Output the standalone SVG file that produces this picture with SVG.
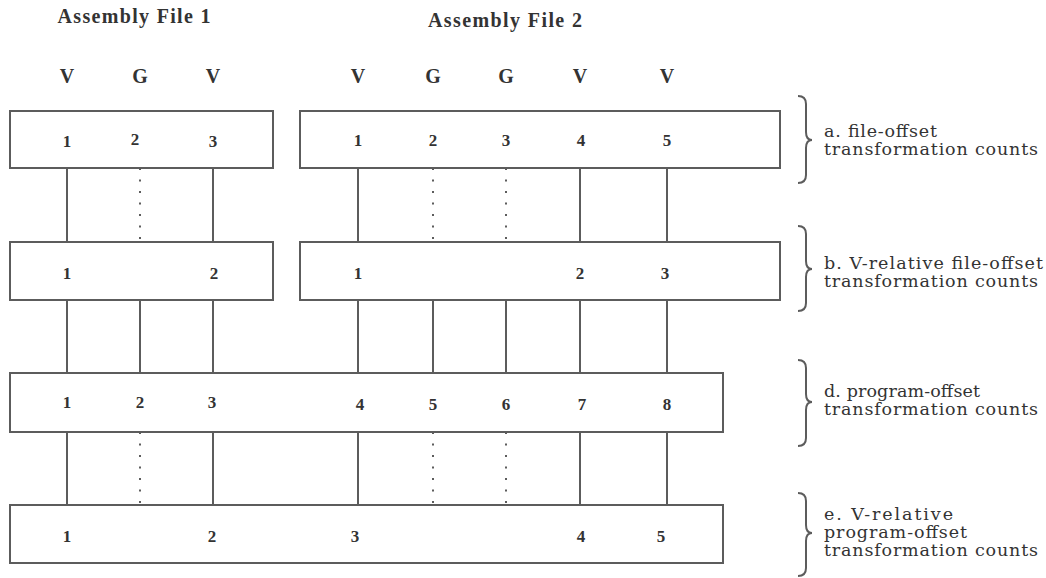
<svg xmlns="http://www.w3.org/2000/svg" width="1046" height="578" viewBox="0 0 1046 578">
<style>
.box{fill:#fff;stroke:#5c5c5c;stroke-width:2}
.ln{stroke:#5c5c5c;stroke-width:2;fill:none}
.dot{stroke:#5c5c5c;stroke-width:2;fill:none;stroke-dasharray:2 9.5}
.brace{stroke:#5c5c5c;stroke-width:2;fill:none}
.hd{font-family:"Liberation Serif",serif;font-weight:bold;font-size:20px;fill:#333;text-anchor:middle}
.vg{font-family:"Liberation Serif",serif;font-weight:bold;font-size:20px;fill:#333;text-anchor:middle}
.num{font-family:"Liberation Serif",serif;font-weight:bold;font-size:17px;fill:#333;text-anchor:middle}
.lbl{font-family:"DejaVu Serif",serif;font-size:17.5px;fill:#333}
</style>
<rect width="1046" height="578" fill="#fff"/>
<g id="headers">
<text class="hd" x="134" y="23" textLength="153" lengthAdjust="spacing">Assembly File 1</text>
<text class="hd" x="505" y="27" textLength="154" lengthAdjust="spacing">Assembly File 2</text>
<text class="vg" x="67" y="83">V</text>
<text class="vg" x="140" y="83">G</text>
<text class="vg" x="213" y="83">V</text>
<text class="vg" x="358" y="83">V</text>
<text class="vg" x="433" y="83">G</text>
<text class="vg" x="506" y="83">G</text>
<text class="vg" x="580" y="83">V</text>
<text class="vg" x="667" y="83">V</text>
</g>
<g id="connectors">
<line class="ln" x1="67" y1="168" x2="67" y2="242"/>
<line class="dot" x1="140" y1="168" x2="140" y2="242"/>
<line class="ln" x1="213" y1="168" x2="213" y2="242"/>
<line class="ln" x1="358" y1="168" x2="358" y2="242"/>
<line class="dot" x1="433" y1="168" x2="433" y2="242"/>
<line class="dot" x1="506" y1="168" x2="506" y2="242"/>
<line class="ln" x1="580" y1="168" x2="580" y2="242"/>
<line class="ln" x1="667" y1="168" x2="667" y2="242"/>
<line class="ln" x1="67" y1="300" x2="67" y2="373"/>
<line class="ln" x1="140" y1="300" x2="140" y2="373"/>
<line class="ln" x1="213" y1="300" x2="213" y2="373"/>
<line class="ln" x1="358" y1="300" x2="358" y2="373"/>
<line class="ln" x1="433" y1="300" x2="433" y2="373"/>
<line class="ln" x1="506" y1="300" x2="506" y2="373"/>
<line class="ln" x1="580" y1="300" x2="580" y2="373"/>
<line class="ln" x1="667" y1="300" x2="667" y2="373"/>
<line class="ln" x1="67" y1="432" x2="67" y2="505"/>
<line class="dot" x1="140" y1="432" x2="140" y2="505"/>
<line class="ln" x1="213" y1="432" x2="213" y2="505"/>
<line class="ln" x1="358" y1="432" x2="358" y2="505"/>
<line class="dot" x1="433" y1="432" x2="433" y2="505"/>
<line class="dot" x1="506" y1="432" x2="506" y2="505"/>
<line class="ln" x1="580" y1="432" x2="580" y2="505"/>
<line class="ln" x1="667" y1="432" x2="667" y2="505"/>
</g>
<g id="a-file1">
<rect class="box" x="10" y="111" width="263" height="57"/>
<text class="num" x="67" y="147">1</text>
<text class="num" x="135" y="145">2</text>
<text class="num" x="213" y="147">3</text>
</g>
<g id="a-file2">
<rect class="box" x="300" y="111" width="480" height="57"/>
<text class="num" x="358" y="146">1</text>
<text class="num" x="433" y="146">2</text>
<text class="num" x="506" y="146">3</text>
<text class="num" x="581" y="146">4</text>
<text class="num" x="667" y="146">5</text>
</g>
<g id="b-file1">
<rect class="box" x="10" y="242" width="263" height="58"/>
<text class="num" x="67" y="279">1</text>
<text class="num" x="214" y="279">2</text>
</g>
<g id="b-file2">
<rect class="box" x="300" y="242" width="480" height="58"/>
<text class="num" x="358" y="279">1</text>
<text class="num" x="580" y="279">2</text>
<text class="num" x="665" y="279">3</text>
</g>
<g id="d-program">
<rect class="box" x="10" y="373" width="713" height="59"/>
<text class="num" x="67" y="408">1</text>
<text class="num" x="140" y="408">2</text>
<text class="num" x="212" y="408">3</text>
<text class="num" x="360" y="410">4</text>
<text class="num" x="433" y="410">5</text>
<text class="num" x="506" y="410">6</text>
<text class="num" x="582" y="410">7</text>
<text class="num" x="667" y="410">8</text>
</g>
<g id="e-program">
<rect class="box" x="10" y="505" width="713" height="58"/>
<text class="num" x="67" y="542">1</text>
<text class="num" x="212" y="542">2</text>
<text class="num" x="355" y="542">3</text>
<text class="num" x="581" y="542">4</text>
<text class="num" x="661" y="542">5</text>
</g>
<g id="label-a">
<path class="brace" d="M798,96 Q806,96 806,104 L806,132 Q806,140 812,140 Q806,140 806,148 L806,175 Q806,183 798,183"/>
<text class="lbl" x="824" y="137" textLength="113" lengthAdjust="spacing">a. file-offset</text>
<text class="lbl" x="824" y="155" textLength="214" lengthAdjust="spacing">transformation counts</text>
</g>
<g id="label-b">
<path class="brace" d="M798,226 Q806,226 806,234 L806,261 Q806,269 812,269 Q806,269 806,277 L806,303 Q806,311 798,311"/>
<text class="lbl" x="824" y="269" textLength="219" lengthAdjust="spacing">b. V-relative file-offset</text>
<text class="lbl" x="824" y="287" textLength="214" lengthAdjust="spacing">transformation counts</text>
</g>
<g id="label-d">
<path class="brace" d="M798,360 Q806,360 806,368 L806,394 Q806,402 812,402 Q806,402 806,410 L806,438 Q806,446 798,446"/>
<text class="lbl" x="824" y="397" textLength="156" lengthAdjust="spacing">d. program-offset</text>
<text class="lbl" x="824" y="415" textLength="214" lengthAdjust="spacing">transformation counts</text>
</g>
<g id="label-e">
<path class="brace" d="M798,493 Q806,493 806,501 L806,525 Q806,533 812,533 Q806,533 806,541 L806,568 Q806,576 798,576"/>
<text class="lbl" x="824" y="520" textLength="129" lengthAdjust="spacing">e.  V-relative</text>
<text class="lbl" x="824" y="538" textLength="143" lengthAdjust="spacing">program-offset</text>
<text class="lbl" x="824" y="556" textLength="214" lengthAdjust="spacing">transformation counts</text>
</g>
</svg>
